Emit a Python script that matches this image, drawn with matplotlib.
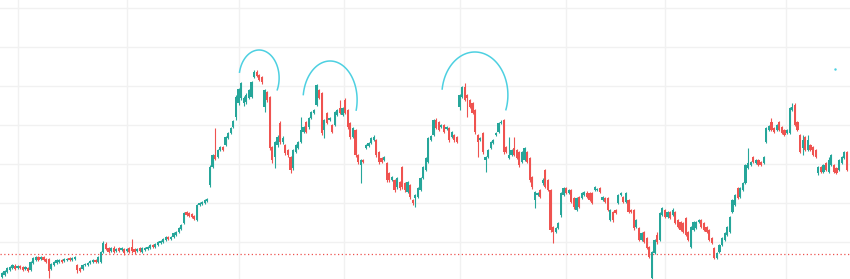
import numpy as np
import matplotlib
matplotlib.use('Agg')
import matplotlib.pyplot as plt

# daily candles, price in chart units (one grid step = 39)
opens = [4, 6, 9, 11, 13, 15, 13, 15, 14, 12, 13, 11, 18, 21, 24, 22, 24, 22, 22, 12,
         16, 18, 19, 21, 20, 21, 23, 21, 22, 16, 13, 12, 16, 16, 18, 19, 21, 19, 19, 29,
         37, 33, 30, 33, 30, 33, 31, 32, 30, 33, 34, 32, 30, 33, 29, 31, 32, 33, 36, 34,
         36, 38, 39, 41, 44, 42, 44, 46, 49, 52, 58, 69, 68, 67, 65, 61, 76, 77, 78, 80,
         96, 114, 126, 124, 131, 134, 136, 143, 148, 154, 164, 178, 183, 178, 179, 183, 184, 204, 209, 206,
         204, 174, 189, 184, 134, 124, 136, 158, 139, 136, 131, 124, 113, 129, 133, 139, 149, 159, 154, 163,
         168, 176, 191, 188, 151, 168, 161, 156, 156, 166, 173, 166, 181, 171, 158, 144, 151, 126, 116, 121,
         133, 135, 138, 141, 141, 129, 123, 121, 118, 108, 101, 101, 94, 99, 114, 98, 89, 96, 81, 83,
         84, 91, 103, 111, 119, 141, 146, 161, 159, 154, 156, 152, 153, 144, 146, 144, 174, 184, 194, 186,
         181, 178, 171, 146, 141, 148, 121, 124, 133, 138, 146, 149, 158, 161, 134, 123, 126, 133, 131, 129,
         119, 121, 129, 123, 104, 81, 86, 91, 98, 111, 101, 91, 54, 49, 53, 66, 86, 93, 88, 91,
         83, 71, 84, 83, 86, 88, 88, 88, 91, 91, 93, 81, 83, 83, 61, 69, 71, 78, 86, 84,
         79, 81, 71, 71, 54, 53, 41, 49, 43, 34, 3, 28, 46, 41, 66, 71, 64, 69, 66, 69,
         61, 59, 58, 63, 49, 34, 51, 53, 59, 61, 58, 54, 51, 43, 33, 23, 29, 36, 41, 46,
         49, 69, 76, 93, 84, 91, 98, 113, 116, 124, 118, 121, 119, 118, 139, 151, 159, 153, 151, 159,
         154, 151, 148, 148, 171, 176, 159, 146, 133, 144, 131, 136, 134, 131, 108, 114, 109, 118, 109, 116,
         116, 113, 111, 118, 123, 129]
highs = [9, 11, 14, 15, 17, 17, 16, 16, 15, 15, 14, 20, 24, 25, 25, 25, 25, 23, 23, 18,
         20, 22, 22, 22, 23, 23, 24, 24, 25, 17, 14, 17, 18, 19, 21, 22, 22, 25, 30, 40,
         39, 34, 34, 35, 33, 34, 34, 33, 33, 34, 42, 33, 33, 34, 34, 34, 35, 37, 37, 38,
         40, 41, 43, 45, 45, 45, 49, 50, 54, 57, 69, 70, 69, 68, 66, 77, 79, 80, 82, 83,
         116, 127, 153, 132, 135, 135, 145, 149, 154, 161, 186, 193, 199, 185, 188, 192, 200, 211, 211, 207,
         205, 192, 190, 185, 135, 140, 146, 160, 145, 137, 132, 125, 132, 137, 140, 164, 155, 160, 164, 170,
         172, 197, 192, 189, 162, 169, 164, 157, 170, 172, 181, 174, 183, 172, 159, 154, 152, 127, 122, 122,
         137, 139, 144, 146, 142, 130, 124, 125, 119, 109, 105, 102, 104, 100, 115, 99, 100, 97, 82, 87,
         94, 104, 115, 124, 144, 146, 162, 163, 160, 157, 157, 155, 154, 150, 147, 145, 187, 195, 198, 187,
         182, 179, 172, 147, 144, 149, 125, 132, 140, 142, 149, 159, 161, 162, 135, 144, 132, 144, 132, 130,
         130, 134, 130, 124, 105, 90, 89, 92, 103, 112, 102, 92, 55, 54, 59, 89, 94, 94, 92, 92,
         84, 84, 85, 89, 90, 90, 89, 89, 95, 93, 94, 85, 84, 84, 72, 70, 72, 87, 89, 85,
         89, 82, 72, 72, 62, 54, 49, 50, 44, 35, 30, 42, 49, 69, 74, 72, 70, 70, 73, 70,
         62, 60, 59, 64, 50, 55, 60, 60, 62, 62, 59, 55, 52, 44, 34, 29, 37, 44, 49, 55,
         65, 82, 87, 94, 94, 99, 117, 133, 120, 125, 122, 122, 120, 125, 154, 156, 163, 154, 157, 160,
         155, 152, 152, 174, 178, 178, 160, 147, 146, 145, 146, 137, 135, 132, 115, 115, 117, 119, 124, 127,
         117, 114, 122, 125, 130, 130]
lows = [3, 5, 8, 10, 12, 11, 12, 12, 10, 11, 9, 10, 17, 20, 20, 21, 20, 18, 3, 11,
        15, 17, 18, 18, 19, 20, 20, 20, 21, 8, 9, 11, 15, 15, 17, 18, 18, 18, 18, 28,
        31, 28, 29, 28, 29, 29, 30, 26, 29, 28, 28, 27, 29, 29, 28, 30, 31, 32, 33, 33,
        35, 37, 38, 40, 41, 41, 43, 45, 48, 51, 57, 65, 64, 63, 61, 60, 75, 76, 77, 79,
        94, 113, 121, 123, 130, 130, 135, 142, 147, 153, 161, 176, 181, 175, 177, 182, 183, 203, 204, 200,
        197, 169, 179, 131, 118, 113, 134, 137, 137, 126, 124, 108, 111, 128, 132, 138, 148, 148, 152, 162,
        167, 175, 182, 146, 143, 157, 160, 148, 155, 165, 167, 165, 167, 152, 142, 143, 124, 117, 98, 118,
        132, 134, 137, 140, 124, 117, 118, 120, 99, 99, 100, 89, 92, 91, 92, 89, 88, 82, 76, 74,
        83, 90, 102, 110, 118, 140, 145, 152, 150, 153, 148, 151, 139, 143, 139, 138, 171, 183, 180, 164,
        173, 167, 147, 124, 140, 127, 109, 123, 132, 137, 145, 148, 157, 127, 128, 122, 125, 125, 122, 114,
        118, 120, 118, 99, 92, 73, 85, 83, 96, 93, 90, 49, 38, 48, 52, 64, 85, 87, 87, 78,
        72, 70, 73, 82, 85, 83, 80, 77, 90, 90, 88, 80, 78, 70, 60, 59, 67, 77, 85, 78,
        78, 68, 68, 51, 53, 40, 40, 38, 32, 23, 1, 27, 37, 40, 65, 63, 63, 62, 65, 57,
        53, 50, 48, 45, 40, 33, 50, 52, 58, 53, 50, 48, 40, 37, 22, 22, 28, 35, 40, 45,
        48, 68, 75, 82, 83, 90, 97, 112, 115, 118, 117, 115, 115, 117, 138, 150, 150, 148, 150, 150,
        147, 145, 147, 147, 170, 155, 150, 128, 126, 130, 130, 130, 125, 123, 106, 108, 108, 110, 108, 115,
        108, 107, 110, 117, 122, 110]
closes = [8, 10, 13, 14, 16, 12, 15, 13, 11, 14, 10, 19, 23, 24, 21, 24, 21, 19, 10, 17,
          19, 21, 21, 19, 22, 22, 21, 23, 24, 11, 10, 16, 17, 18, 20, 21, 19, 24, 29, 38,
          32, 29, 33, 29, 32, 30, 33, 28, 32, 29, 30, 29, 32, 30, 33, 33, 34, 36, 34, 37,
          39, 40, 42, 44, 42, 44, 48, 49, 53, 56, 68, 66, 65, 64, 62, 76, 78, 79, 81, 82,
          114, 126, 122, 131, 134, 131, 144, 148, 153, 160, 184, 192, 198, 183, 186, 191, 199, 209, 205, 201,
          199, 191, 181, 133, 121, 139, 144, 139, 143, 128, 126, 111, 131, 136, 139, 151, 154, 149, 163, 169,
          171, 196, 183, 148, 161, 158, 163, 149, 169, 171, 168, 173, 168, 154, 144, 153, 126, 119, 121, 119,
          136, 138, 143, 144, 126, 119, 119, 124, 101, 101, 104, 91, 103, 93, 94, 91, 99, 84, 78, 86,
          93, 103, 114, 123, 143, 145, 161, 153, 151, 156, 149, 154, 141, 149, 141, 139, 186, 194, 181, 183,
          174, 168, 149, 139, 143, 129, 124, 131, 139, 141, 148, 158, 159, 129, 129, 126, 131, 126, 123, 116,
          129, 133, 119, 101, 94, 89, 88, 84, 101, 94, 91, 51, 49, 53, 58, 88, 93, 88, 91, 79,
          74, 83, 74, 88, 89, 84, 81, 78, 94, 92, 89, 84, 79, 71, 71, 61, 68, 86, 88, 79,
          88, 69, 69, 53, 61, 41, 48, 39, 33, 24, 29, 41, 39, 68, 73, 64, 69, 63, 71, 58,
          54, 51, 49, 46, 41, 54, 59, 59, 61, 54, 51, 49, 41, 38, 23, 28, 36, 43, 48, 54,
          64, 81, 86, 83, 93, 98, 116, 118, 119, 119, 121, 116, 116, 124, 153, 155, 151, 149, 156, 151,
          148, 146, 151, 173, 174, 156, 151, 129, 141, 131, 141, 131, 126, 124, 114, 109, 116, 111, 121, 126,
          109, 108, 121, 124, 129, 111]

month_lines = [6, 48, 91, 131.5, 176, 217, 255, 301.5]
price_lines = [39, 78, 117, 156, 195, 234, 273]
last_low_level = 27

# hand-drawn marks over the three tops: (centre x, centre y, half width, half height, from, to)
tops = [(98.9, 203, 7.7, 28, -25, 168),
        (126.2, 181, 10.4, 39, -15, 172),
        (181.9, 186, 12.7, 43, -20, 172)]

UP = '#26a69a'
DOWN = '#ef5350'

o = np.array(opens, float)
h = np.array(highs, float)
l = np.array(lows, float)
c = np.array(closes, float)
x = np.arange(len(o))
col = np.where(c >= o, UP, DOWN)

fig = plt.figure(figsize=(8.5, 2.79), dpi=100)
ax = fig.add_axes([0, 0, 1, 1])
ax.set_xlim(-0.77, 326.2)
ax.set_ylim(2, 281)

for v in month_lines:
    ax.axvline(v, color='#f1f1f1', lw=1, zorder=0)
for v in price_lines:
    ax.axhline(v, color='#f1f1f1', lw=1, zorder=0)

ax.vlines(x, l, h, colors=col, lw=0.8, zorder=2)
body = np.maximum(np.abs(c - o), 0.8)
ax.bar(x, body, bottom=np.minimum(o, c), width=0.85, color=col, lw=0, zorder=3)

ax.axhline(last_low_level, color=DOWN, lw=0.9, ls=(0, (1, 2)), zorder=1)

for cx, cy, rx, ry, t0, t1 in tops:
    t = np.radians(np.linspace(t0, t1, 80))
    ax.plot(cx + rx * np.cos(t), cy + ry * np.sin(t), color='#4dd0e1', lw=1.1, zorder=4)
ax.plot([320.4], [212], marker='.', ms=1.5, color='#4dd0e1')

ax.set_axis_off()
fig.savefig('out.png', dpi=100)
